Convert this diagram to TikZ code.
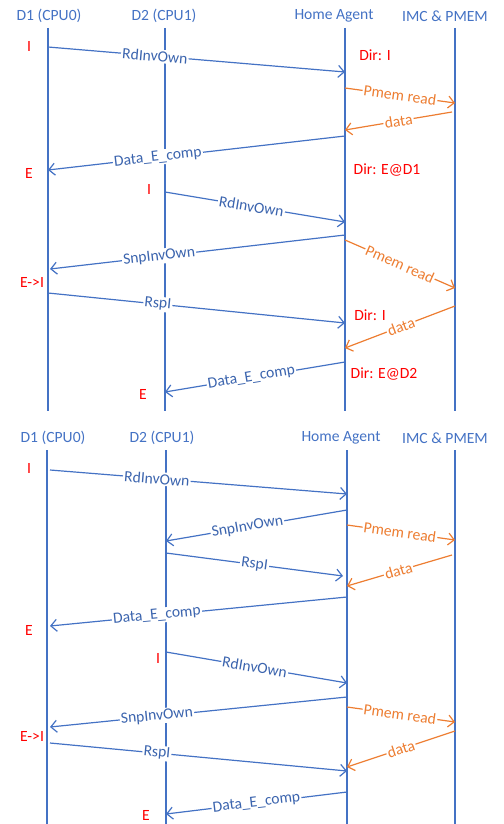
\documentclass[tikz,border=0pt]{standalone}
\usepackage{fontspec}
\setmainfont{Carlito}
\usetikzlibrary{arrows.meta}
\definecolor{ublue}{HTML}{4472C4}
\definecolor{utext}{HTML}{3B64AE}
\definecolor{uorange}{HTML}{ED7D31}
\definecolor{ured}{HTML}{FF0000}
\tikzset{
  lbl/.style={font=\fontsize{7.8}{9}\selectfont},
  head/.style={lbl, text=ublue},
  life/.style={draw=ublue, line width=0.9pt},
  bmsg/.style={draw=ublue, line width=0.6pt, -{Straight Barb[length=3pt,width=6pt]}},
  omsg/.style={draw=uorange, line width=0.6pt, -{Straight Barb[length=3pt,width=6pt]}},
  btxt/.style={lbl, text=utext, fill=white, inner sep=0.6pt, sloped},
  otxt/.style={lbl, text=uorange, fill=white, inner sep=0.6pt, sloped},
  state/.style={lbl, text=ured},
}
\newcommand\mymsg[7]{%
  \coordinate (#1s) at (#4); \coordinate (#1e) at (#5);
  \draw[#2] (#1s) -- node[#3, pos=#6]{#7} (#1e);}
\begin{document}
\begin{tikzpicture}[x=0.5pt,y=-0.5pt]
\useasboundingbox (0,0) rectangle (503,824);
% ---------- top diagram ----------
\node[head] (h1) at (49,16) {D1 (CPU0)};
\node[head] (h2) at (164,16) {D2 (CPU1)};
\node[head] (h3) at (334,16) {Home Agent};
\node[head] (h4) at (445,16) {IMC \& PMEM};
\coordinate (l1a) at (48,28);  \coordinate (l1b) at (48,411);
\coordinate (l2a) at (165,28); \coordinate (l2b) at (165,411);
\coordinate (l3a) at (345,28); \coordinate (l3b) at (345,411);
\coordinate (l4a) at (455,28); \coordinate (l4b) at (455,411);
\draw[life] (l1a) -- (l1b);
\draw[life] (l2a) -- (l2b);
\draw[life] (l3a) -- (l3b);
\draw[life] (l4a) -- (l4b);

\mymsg{a1}{bmsg}{btxt}{48,47}{345,72}{0.36}{RdInvOwn}
\mymsg{a2}{omsg}{otxt}{345,88}{455,103}{0.5}{Pmem read}
\mymsg{a3}{omsg}{otxt}{452,112}{345,130}{0.5}{data}
\mymsg{a4}{bmsg}{btxt}{345,136}{48,170}{0.63}{Data\_E\_comp}
\mymsg{a5}{bmsg}{btxt}{165,192}{345,222}{0.48}{RdInvOwn}
\mymsg{a6}{bmsg}{btxt}{345,235}{50,269}{0.63}{SnpInvOwn}
\mymsg{a7}{omsg}{otxt}{345,240}{455,288}{0.5}{Pmem read}
\mymsg{a8}{bmsg}{btxt}{48,293}{345,323}{0.37}{RspI}
\mymsg{a9}{omsg}{otxt}{455,306}{345,348}{0.49}{data}
\mymsg{a10}{bmsg}{btxt}{345,362}{165,392}{0.52}{Data\_E\_comp}

\node[state] (s1) at (29,46) {I};
\node[state] (s2) at (375,55) {Dir: I};
\node[state] (s3) at (29,173) {E};
\node[state] (s4) at (387,170) {Dir: E@D1};
\node[state] (s5) at (149,189) {I};
\node[state] (s6) at (32,282) {E->I};
\node[state] (s7) at (370,315) {Dir: I};
\node[state] (s8) at (384,374) {Dir: E@D2};
\node[state] (s9) at (143,394) {E};

% ---------- bottom diagram ----------
\node[head] (g1) at (53,438) {D1 (CPU0)};
\node[head] (g2) at (162,438) {D2 (CPU1)};
\node[head] (g3) at (341,438) {Home Agent};
\node[head] (g4) at (445,438) {IMC \& PMEM};
\coordinate (m1a) at (47,450);  \coordinate (m1b) at (47,824);
\coordinate (m2a) at (166,450); \coordinate (m2b) at (166,824);
\coordinate (m3a) at (347,450); \coordinate (m3b) at (347,824);
\coordinate (m4a) at (455,450); \coordinate (m4b) at (455,824);
\draw[life] (m1a) -- (m1b);
\draw[life] (m2a) -- (m2b);
\draw[life] (m3a) -- (m3b);
\draw[life] (m4a) -- (m4b);

\mymsg{b1}{bmsg}{btxt}{50,470}{347,494}{0.36}{RdInvOwn}
\mymsg{b2}{bmsg}{btxt}{347,510}{166,541}{0.55}{SnpInvOwn}
\mymsg{b3}{omsg}{otxt}{347,525}{455,540}{0.49}{Pmem read}
\mymsg{b4}{bmsg}{btxt}{166,553}{343,576}{0.5}{RspI}
\mymsg{b5}{omsg}{otxt}{452,555}{347,586}{0.51}{data}
\mymsg{b6}{bmsg}{btxt}{347,597}{50,626}{0.64}{Data\_E\_comp}
\mymsg{b7}{bmsg}{btxt}{166,652}{347,683}{0.49}{RdInvOwn}
\mymsg{b8}{bmsg}{btxt}{347,697}{50,727}{0.64}{SnpInvOwn}
\mymsg{b9}{omsg}{otxt}{347,707}{455,722}{0.49}{Pmem read}
\mymsg{b10}{bmsg}{btxt}{50,743}{347,771}{0.36}{RspI}
\mymsg{b11}{omsg}{otxt}{455,731}{347,767}{0.5}{data}
\mymsg{b12}{bmsg}{btxt}{347,792}{166,814}{0.5}{Data\_E\_comp}

\node[state] (t1) at (29,468) {I};
\node[state] (t2) at (29,630) {E};
\node[state] (t3) at (158,658) {I};
\node[state] (t4) at (32,736) {E->I};
\node[state] (t5) at (146,815) {E};
\end{tikzpicture}
\end{document}
